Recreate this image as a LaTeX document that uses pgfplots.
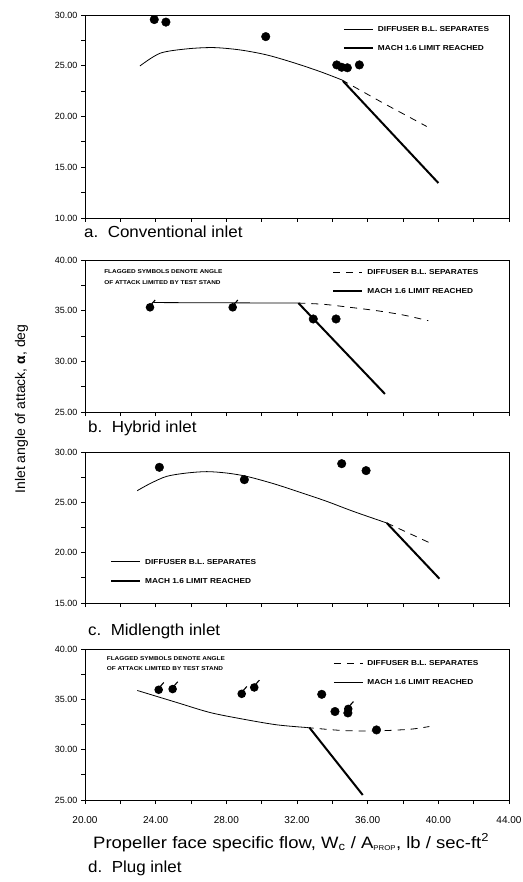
\documentclass[border=0pt]{standalone}
\usepackage{fontspec}
\setmainfont{Liberation Sans}
\newfontfamily\legfont[FakeStretch=1.15]{Liberation Sans}
\newfontfamily\capfont[FakeStretch=1.06]{Liberation Sans}
\newfontfamily\xlabfont[FakeStretch=1.12]{Liberation Sans}
\usepackage{pgfplots}
\pgfplotsset{compat=1.18}

\pgfdeclareplotmark{flagdot}{%
  \pgfpathcircle{\pgfpointorigin}{\pgfplotmarksize}\pgfusepathqfill
  \pgfsetlinewidth{1.1pt}%
  \pgfpathmoveto{\pgfpoint{0.3\pgfplotmarksize}{0.7\pgfplotmarksize}}%
  \pgfpathlineto{\pgfpoint{1.2\pgfplotmarksize}{1.7\pgfplotmarksize}}%
  \pgfusepathqstroke}

\tikzset{
 thinl/.style={black, line width=0.8pt},
 thickl/.style={black, line width=2pt},
 dashl/.style={black, line width=0.8pt, dash pattern=on 7pt off 6pt},
 note/.style={anchor=north west, inner sep=0pt, align=left,
   font=\legfont\bfseries\fontsize{5.6}{11}\selectfont},
 capt/.style={anchor=base west, inner sep=0pt, font=\capfont\fontsize{16}{18}\selectfont},
}

\pgfplotsset{
 panel/.style={scale only axis, width=424pt, xmin=20, xmax=44,
   xtick={20,24,...,44}, minor x tick num=1, minor y tick num=1,
   tick align=outside, xtick pos=left, ytick pos=left,
   major tick length=4pt, minor tick length=4pt,
   axis line style={line width=0.8pt},
   every tick/.style={black, line width=0.8pt},
   yticklabel style={font=\fontsize{9}{10}\selectfont},
   xticklabel style={font=\fontsize{10}{11}\selectfont, yshift=-9pt},
   /pgf/number format/fixed, /pgf/number format/fixed zerofill,
   /pgf/number format/precision=2, /pgf/number format/assume math mode=true,
   clip=false, legend cell align=left,
   legend style={draw=none, fill=none, inner sep=0pt,
     font=\legfont\bfseries\fontsize{7.2}{8}\selectfont,
     row sep=14pt,
     /tikz/every odd column/.style={column sep=4pt},
     nodes={inner sep=0pt, text height=5pt, text depth=0pt}},
   legend image code/.code={\draw[##1] (0pt,0pt) -- (29pt,0pt);},
 },
 dots/.style={only marks, mark=*, mark size=4.3pt, black},
 fdots/.style={only marks, mark=flagdot, mark size=4.3pt, black},
}

\begin{document}
\begin{tikzpicture}
\useasboundingbox (0pt,0pt) rectangle (522pt,-882pt);

% ---------- a. Conventional inlet ----------
\begin{axis}[panel, at={(85pt,-218pt)}, anchor=south west, height=203pt,
  ymin=10, ymax=30, ytick={10,15,...,30}, xticklabels={},
  legend style={at={(0.608,0.943)}, anchor=north west}]
\addlegendimage{thinl}\addlegendentry{DIFFUSER B.L. SEPARATES}
\addlegendimage{thickl}\addlegendentry{MACH 1.6 LIMIT REACHED}
\addplot[thinl, smooth, forget plot] coordinates {(23.11,24.98) (24.25,26.23) (25.75,26.66) (27.26,26.79) (28.77,26.56) (30.28,26.07) (31.79,25.31) (33.30,24.43) (34.53,23.61)};
\addplot[dashl, forget plot] coordinates {(34.53,23.61) (36.89,21.31) (39.34,19.02)};
\addplot[thickl, forget plot] coordinates {(34.6,23.5) (40.0,13.45)};
\addplot[dots, forget plot] coordinates {(23.92,29.55) (24.58,29.3) (30.23,27.87) (34.25,25.08) (34.53,24.85) (34.85,24.8) (35.53,25.08)};
\end{axis}

% ---------- b. Hybrid inlet ----------
\begin{axis}[panel, at={(85pt,-412pt)}, anchor=south west, height=152pt,
  ymin=25, ymax=40, ytick={25,30,...,40}, xticklabels={},
  legend style={at={(0.583,0.939)}, anchor=north west}]
\addlegendimage{dashl}\addlegendentry{DIFFUSER B.L. SEPARATES}
\addlegendimage{thickl}\addlegendentry{MACH 1.6 LIMIT REACHED}
\addplot[thinl, forget plot] coordinates {(23.87,35.8) (32.08,35.75)};
\addplot[dashl, smooth, forget plot] coordinates {(32.08,35.75) (33.49,35.63) (35.0,35.33) (36.51,35.0) (38.02,34.57) (39.43,34.01)};
\addplot[thickl, forget plot] coordinates {(32.08,35.75) (36.98,26.78)};
\addplot[fdots, forget plot] coordinates {(23.68,35.33) (28.36,35.33)};
\addplot[dots, forget plot] coordinates {(32.92,34.18) (34.21,34.18)};
\node[note] at (rel axis cs:0.045,0.9375) {FLAGGED SYMBOLS DENOTE ANGLE\\OF ATTACK LIMITED BY TEST STAND};
\end{axis}

% ---------- c. Midlength inlet ----------
\begin{axis}[panel, at={(85pt,-603pt)}, anchor=south west, height=151pt,
  ymin=15, ymax=30, ytick={15,20,...,30}, xticklabels={},
  legend style={at={(0.059,0.129)}, anchor=south west}]
\addlegendimage{thinl}\addlegendentry{DIFFUSER B.L. SEPARATES}
\addlegendimage{thickl}\addlegendentry{MACH 1.6 LIMIT REACHED}
\addplot[thinl, smooth, forget plot] coordinates {(22.96,26.16) (23.68,26.86) (24.62,27.58) (25.75,27.91) (26.89,28.05) (28.02,27.91) (29.15,27.58) (30.66,26.86) (32.17,26.0) (33.68,25.1) (35.19,24.1) (37.08,22.95)};
\addplot[dashl, forget plot] coordinates {(37.08,22.95) (39.62,20.89)};
\addplot[thickl, forget plot] coordinates {(37.08,22.95) (40.06,17.42)};
\addplot[dots, forget plot] coordinates {(24.21,28.48) (29.02,27.25) (34.53,28.84) (35.91,28.15)};
\end{axis}

% ---------- d. Plug inlet ----------
\begin{axis}[panel, at={(85pt,-800pt)}, anchor=south west, height=151pt,
  ymin=25, ymax=40, ytick={25,30,...,40},
  legend style={at={(0.585,0.924)}, anchor=north west}]
\addlegendimage{dashl}\addlegendentry{DIFFUSER B.L. SEPARATES}
\addlegendimage{black, line width=1.2pt}\addlegendentry{MACH 1.6 LIMIT REACHED}
\addplot[thinl, smooth, forget plot] coordinates {(22.96,35.88) (25.19,34.69) (27.08,33.69) (28.96,33.03) (30.85,32.47) (32.55,32.2)};
\addplot[dashl, smooth, forget plot] coordinates {(32.55,32.2) (34.62,31.9) (36.51,31.87) (38.4,32.03) (39.49,32.3)};
\addplot[thickl, forget plot] coordinates {(32.7,32.2) (35.72,25.5)};
\addplot[fdots, forget plot] coordinates {(24.17,35.95) (24.96,36.02) (28.87,35.55) (29.58,36.18) (34.9,34.05)};
\addplot[dots, forget plot] coordinates {(33.40,35.5) (34.15,33.79) (34.88,33.65) (36.5,31.96)};
\node[note, font=\legfont\bfseries\fontsize{5.6}{10}\selectfont] at (rel axis cs:0.051,0.949) {FLAGGED SYMBOLS DENOTE ANGLE\\OF ATTACK LIMITED BY TEST STAND};
\end{axis}

% ---------- captions and axis titles ----------
\node[capt] at (84pt,-237.5pt) {a.\ \ Conventional inlet};
\node[capt] at (88pt,-432pt) {b.\ \ Hybrid inlet};
\node[capt] at (88pt,-635.5pt) {c.\ \ Midlength inlet};
\node[capt] at (88pt,-872pt) {d.\ \ Plug inlet};
\node[anchor=base west, inner sep=0pt, font=\xlabfont\fontsize{16.5}{18}\selectfont] at (93pt,-848pt) {Propeller face specific flow, W\textsubscript{c} / A\textsubscript{\fontsize{7}{8}\selectfont PROP}, lb / sec-ft\textsuperscript{2}};
\node[anchor=base, inner sep=0pt, rotate=90, font=\fontsize{14}{16}\selectfont] at (25pt,-409pt) {Inlet angle of attack, \textbf{α}, deg};
\end{tikzpicture}
\end{document}
